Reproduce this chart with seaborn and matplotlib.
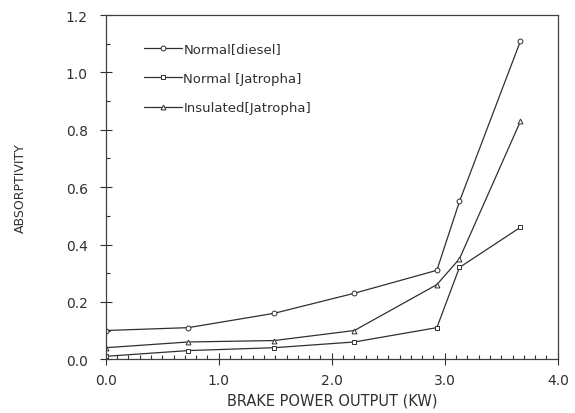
import numpy as np
import pandas as pd
import matplotlib
matplotlib.use("Agg")
import matplotlib.pyplot as plt
from matplotlib.ticker import MultipleLocator, FormatStrFormatter
import seaborn as sns

# brake power (kW) at each load step
power = [0.0, 0.73, 1.49, 2.2, 2.93, 3.13, 3.67]

diesel = [0.10, 0.11, 0.16, 0.23, 0.31, 0.55, 1.11]
jatropha = [0.01, 0.03, 0.04, 0.06, 0.11, 0.32, 0.46]
insulated = [0.04, 0.06, 0.065, 0.10, 0.26, 0.35, 0.83]

labels = ["Normal[diesel]", "Normal [Jatropha]", "Insulated[Jatropha]"]
markers = ["o", "s", "^"]


def main():
    sns.set_style("ticks")
    plt.rcParams['font.family'] = ['DejaVu Sans']

    fig = plt.figure(figsize=(5.75, 4.14), dpi=100)
    ax = fig.add_axes([0.184, 0.130, 0.786, 0.831])

    for vals, lab, mk in zip([diesel, jatropha, insulated], labels, markers):
        df = pd.DataFrame({'power': power, 'value': vals})
        sns.lineplot(data=df, x='power', y='value', ax=ax, sort=False,
                     color='#303030', linewidth=0.9, marker=mk, markersize=3.5,
                     markerfacecolor='white', markeredgecolor='#303030',
                     markeredgewidth=0.7, label=lab)

    ax.set_xlim(0, 4.0)
    ax.set_ylim(0, 1.2)
    ax.xaxis.set_major_locator(MultipleLocator(1.0))
    ax.xaxis.set_minor_locator(MultipleLocator(0.1))
    ax.yaxis.set_major_locator(MultipleLocator(0.2))
    ax.yaxis.set_minor_locator(MultipleLocator(0.1))
    ax.xaxis.set_major_formatter(FormatStrFormatter('%.1f'))
    ax.yaxis.set_major_formatter(FormatStrFormatter('%.1f'))

    ax.tick_params(which='major', direction='inout', length=8, width=0.8,
                   labelsize=10, colors='#303030')
    ax.tick_params(axis='x', which='major', pad=6)
    ax.tick_params(axis='y', which='major', pad=9)
    ax.tick_params(which='minor', direction='in', length=3, width=0.8,
                   colors='#303030')
    ax.tick_params(top=False, right=False)

    for sp in ax.spines.values():
        sp.set_visible(True)
        sp.set_color('#404040')
        sp.set_linewidth(0.9)

    ax.set_xlabel('BRAKE POWER OUTPUT (KW)', fontsize=10.5, color='#303030', labelpad=4)
    ax.set_ylabel('ABSORPTIVITY', fontsize=9, color='#303030', labelpad=28)

    leg = ax.legend(loc='upper left', bbox_to_anchor=(0.058, 0.955), frameon=False,
                    fontsize=9.5, handlelength=2.9, handletextpad=0.1,
                    labelspacing=1.25)
    for t in leg.get_texts():
        t.set_color('#303030')

    fig.savefig('out.png', dpi=100)


if __name__ == "__main__":
    main()
